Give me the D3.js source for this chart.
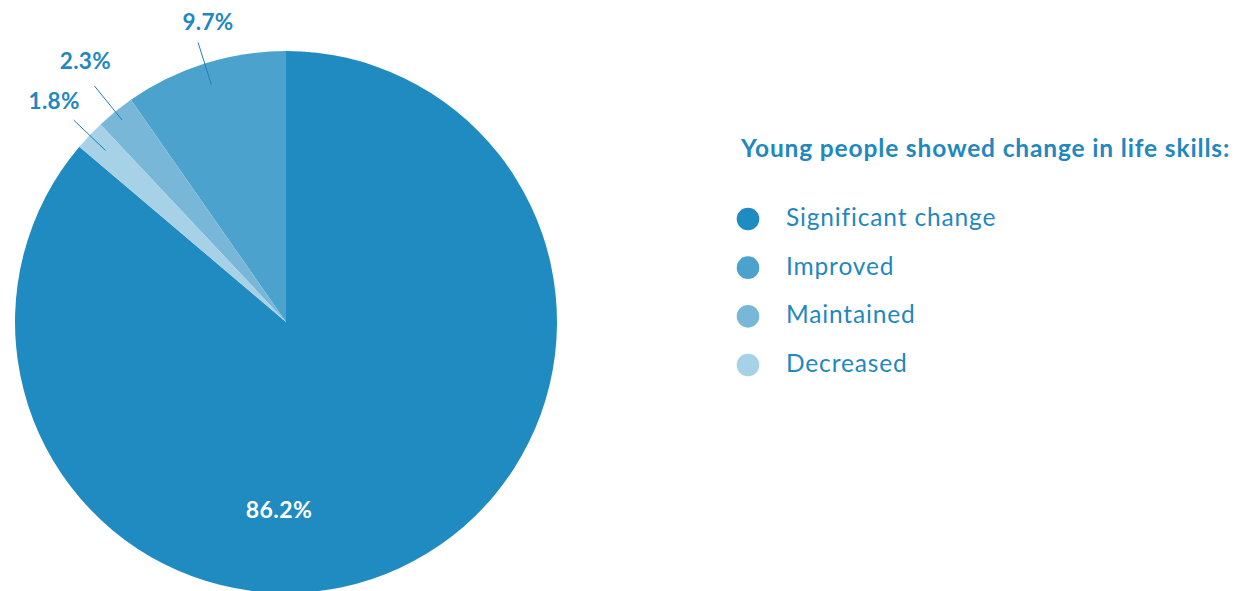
<!DOCTYPE html>
<html>
<head>
<meta charset="utf-8">
<script src="https://cdn.jsdelivr.net/npm/d3@7"></script>
<style>
  body { margin: 0; background: #fff; }
  svg { display: block; font-family: Lato, "Open Sans", sans-serif; }
</style>
</head>
<body>
<svg width="1236" height="591"></svg>
<script>
const categories = ["Significant change", "Improved", "Maintained", "Decreased"];
const values = [86.2, 9.7, 2.3, 1.8];
const colors = ["#1f8bc1", "#4ba3cd", "#79b7d8", "#a6d1e6"];
// draw order clockwise from 12 o'clock
const pieOrder = ["Significant change", "Decreased", "Maintained", "Improved"];
const title = "Young people showed change in life skills:";
const textColor = "#1f88bf";

const svg = d3.select("svg");
const data = categories.map((c, i) => ({ name: c, value: values[i], color: colors[i] }));

const cx = 286, cy = 322, radius = 271;

const pie = d3.pie()
  .value(d => d.value)
  .sort((a, b) => pieOrder.indexOf(a.name) - pieOrder.indexOf(b.name));

const arc = d3.arc().innerRadius(0).outerRadius(radius);
const arcs = pie(data);

const g = svg.append("g").attr("transform", `translate(${cx},${cy})`);

g.selectAll("path.slice")
  .data(arcs)
  .enter()
  .append("path")
  .attr("class", "slice")
  .attr("d", arc)
  .attr("fill", d => d.data.color);

// small slices: leader lines + outside labels (small hand nudges to avoid crowding)
const lineShift = { "Maintained": 11 };
const labelNudge = {
  "Improved": [18, 5],
  "Maintained": [1, -13],
  "Decreased": [0, -1]
};
const onRadius = (d, r) => d3.arc().innerRadius(r).outerRadius(r).centroid(d);

const small = arcs.filter(d => d.data.value < 50);
const big = arcs.filter(d => d.data.value >= 50);

g.selectAll("line.leader")
  .data(small)
  .enter()
  .append("line")
  .attr("x1", d => onRadius(d, 249 + (lineShift[d.data.name] || 0))[0])
  .attr("y1", d => onRadius(d, 249 + (lineShift[d.data.name] || 0))[1])
  .attr("x2", d => onRadius(d, 293 + (lineShift[d.data.name] || 0))[0])
  .attr("y2", d => onRadius(d, 293 + (lineShift[d.data.name] || 0))[1])
  .attr("stroke", "#1f7fb5")
  .attr("stroke-width", 1);

g.selectAll("text.outer")
  .data(small)
  .enter()
  .append("text")
  .attr("x", d => onRadius(d, 320)[0] + labelNudge[d.data.name][0])
  .attr("y", d => onRadius(d, 320)[1] + labelNudge[d.data.name][1])
  .attr("dy", "0.36em")
  .attr("text-anchor", "middle")
  .attr("font-size", 22.5)
  .attr("letter-spacing", 0.3)
  .attr("font-weight", 700)
  .attr("fill", textColor)
  .text(d => d.data.value + "%");

// big slice label sits just below the centre
g.selectAll("text.inner")
  .data(big)
  .enter()
  .append("text")
  .attr("x", -7)
  .attr("y", 188)
  .attr("dy", "0.36em")
  .attr("text-anchor", "middle")
  .attr("font-size", 23)
  .attr("letter-spacing", 0.4)
  .attr("font-weight", 700)
  .attr("fill", "#fff")
  .text(d => d.data.value + "%");

// legend
const legend = svg.append("g").attr("transform", "translate(741,0)");

legend.append("text")
  .attr("x", 0)
  .attr("y", 157)
  .attr("font-size", 24.5)
  .attr("letter-spacing", 0.85)
  .attr("font-weight", 700)
  .attr("fill", textColor)
  .text(title);

const ly = d3.scalePoint().domain(categories).range([219, 365]);

const items = legend.selectAll("g.item")
  .data(data)
  .enter()
  .append("g")
  .attr("class", "item")
  .attr("transform", d => `translate(0,${ly(d.name)})`);

items.append("circle")
  .attr("cx", 7)
  .attr("cy", 0)
  .attr("r", 11.3)
  .attr("fill", d => d.color);

items.append("text")
  .attr("x", 45)
  .attr("y", 0)
  .attr("dy", "0.28em")
  .attr("font-size", 24.5)
  .attr("letter-spacing", 0.85)
  .attr("fill", textColor)
  .text(d => d.name);
</script>
</body>
</html>
